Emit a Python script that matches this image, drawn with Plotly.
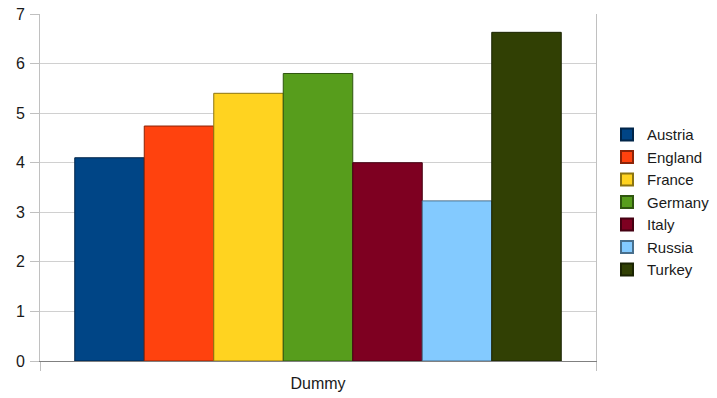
import plotly.graph_objects as go

# Data
category = ["Dummy"]
countries = ["Austria", "England", "France", "Germany", "Italy", "Russia", "Turkey"]
values = [4.10, 4.74, 5.40, 5.80, 4.00, 3.23, 6.63]
colors = ["#004586", "#ff420e", "#ffd320", "#579d1c", "#7e0021", "#83caff", "#314004"]
y_ticks = [0, 1, 2, 3, 4, 5, 6, 7]


def darken(hex_color, factor=0.55):
    h = hex_color.lstrip("#")
    r, g, b = (int(h[i:i + 2], 16) for i in (0, 2, 4))
    return "rgb({},{},{})".format(int(r * factor), int(g * factor), int(b * factor))


fig = go.Figure()
for name, val, col in zip(countries, values, colors):
    fig.add_trace(go.Bar(
        x=category, y=[val], name=name,
        marker=dict(color=col, line=dict(color=darken(col), width=1)),
    ))

font = "Liberation Sans, Arial, sans-serif"
fig.update_layout(
    width=717, height=398,
    margin=dict(l=40, r=121, t=14, b=37, autoexpand=False),
    paper_bgcolor="white", plot_bgcolor="white",
    barmode="group", bargap=0.125, bargroupgap=0,
    font=dict(family=font, size=16, color="#1a1a1a"),
    showlegend=True,
    legend=dict(
        x=0.8466, xanchor="left", xref="container",
        y=0.492, yanchor="middle", yref="container",
        font=dict(family=font, size=15, color="#1a1a1a"),
        itemsizing="constant", tracegroupgap=0,
        traceorder="normal",
    ),
    xaxis=dict(
        type="category", tickson="boundaries", automargin=False,
        ticks="outside", ticklen=9, tickcolor="#c0c0c0",
        showgrid=False, showline=True, linecolor="#808080", linewidth=1,
        tickfont=dict(size=16), ticklabelstandoff=8,
    ),
    yaxis=dict(
        range=[0, 7], tickvals=y_ticks, automargin=False,
        ticks="outside", ticklen=9, tickcolor="#c0c0c0",
        showgrid=True, gridcolor="#d0d0d0", gridwidth=1,
        showline=True, linecolor="#c0c0c0", mirror=True,
        zeroline=False, ticklabelstandoff=2,
        tickfont=dict(size=16),
    ),
)

fig.write_html("out.html")
